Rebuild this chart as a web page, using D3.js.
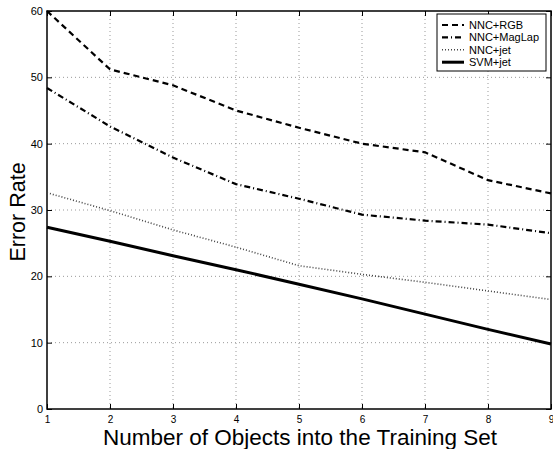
<!DOCTYPE html>
<html>
<head>
<meta charset="utf-8">
<script src="https://cdn.jsdelivr.net/npm/d3@7"></script>
<style>
  body { margin: 0; background: #fff; }
  svg { display: block; font-family: "Liberation Sans", Arial, sans-serif; }
</style>
</head>
<body>
<div id="chart"></div>
<script>
const objects = [1, 2, 3, 4, 5, 6, 7, 8, 9];
const nncRgb = [60.0, 51.2, 48.8, 45.0, 42.4, 40.0, 38.7, 34.5, 32.5];
const nncMagLap = [48.4, 42.6, 37.9, 33.9, 31.7, 29.3, 28.4, 27.8, 26.5];
const nncJet = [32.6, 29.9, 27.0, 24.4, 21.6, 20.3, 19.1, 17.8, 16.5];
const svmJet = [27.4, 25.3, 23.1, 21.0, 18.8, 16.6, 14.3, 12.0, 9.8];
const yTicks = [0, 10, 20, 30, 40, 50, 60];

const series = [
    { name: "NNC+RGB", values: nncRgb, dash: "6,4", width: 2.2, color: "#000" },
    { name: "NNC+MagLap", values: nncMagLap, dash: "6,3,1,3", width: 2.2, color: "#000" },
    { name: "NNC+jet", values: nncJet, dash: "1,2", width: 1.6, color: "#444" },
    { name: "SVM+jet", values: svmJet, dash: null, width: 3, color: "#000" }
];

const W = 553, H = 449;
const margin = { top: 11, right: 2, bottom: 40, left: 47 };
const iw = W - margin.left - margin.right;
const ih = H - margin.top - margin.bottom;

const svg = d3.select("#chart").append("svg")
    .attr("width", W)
    .attr("height", H);

const g = svg.append("g")
    .attr("transform", `translate(${margin.left},${margin.top})`);

const x = d3.scaleLinear().domain([1, 9]).range([0, iw]);
const y = d3.scaleLinear().domain([0, 60]).range([ih, 0]);

// dotted grid
g.append("g")
    .selectAll("line")
    .data(objects.slice(1, -1))
    .join("line")
    .attr("x1", d => x(d)).attr("x2", d => x(d))
    .attr("y1", 0).attr("y2", ih)
    .attr("stroke", "#999")
    .attr("stroke-width", 1)
    .attr("stroke-dasharray", "1,3");

g.append("g")
    .selectAll("line")
    .data(yTicks.slice(1, -1))
    .join("line")
    .attr("y1", d => y(d)).attr("y2", d => y(d))
    .attr("x1", 0).attr("x2", iw)
    .attr("stroke", "#999")
    .attr("stroke-width", 1)
    .attr("stroke-dasharray", "1,3");

// axes with inward ticks
const xAxis = g.append("g")
    .attr("transform", `translate(0,${ih})`)
    .call(d3.axisBottom(x).tickValues(objects).tickFormat(d3.format("d")).tickSizeInner(-5).tickSizeOuter(0));
const xTop = g.append("g")
    .call(d3.axisTop(x).tickValues(objects).tickSizeInner(-5).tickSizeOuter(0).tickFormat(""));
const yAxis = g.append("g")
    .call(d3.axisLeft(y).tickValues(yTicks).tickSizeInner(-5).tickSizeOuter(0));
const yRight = g.append("g")
    .attr("transform", `translate(${iw},0)`)
    .call(d3.axisRight(y).tickValues(yTicks).tickSizeInner(-5).tickSizeOuter(0).tickFormat(""));

[xAxis, xTop, yAxis, yRight].forEach(a => {
    a.select(".domain").remove();
    a.selectAll("line").attr("stroke", "#000");
});
xAxis.selectAll("text").attr("dy", 0).attr("y", 14).style("font-size", "10px").attr("fill", "#000");
yAxis.selectAll("text").attr("x", -4).style("font-size", "11px").attr("fill", "#000");

g.append("rect")
    .attr("width", iw).attr("height", ih)
    .attr("fill", "none")
    .attr("stroke", "#000")
    .attr("stroke-width", 1.5);

// series
const line = d3.line()
    .x((d, i) => x(objects[i]))
    .y(d => y(d));

g.append("g")
    .selectAll("path")
    .data(series)
    .join("path")
    .attr("d", d => line(d.values))
    .attr("fill", "none")
    .attr("stroke", d => d.color)
    .attr("stroke-width", d => d.width)
    .attr("stroke-dasharray", d => d.dash);

// legend
const legend = g.append("g")
    .attr("transform", `translate(${iw - 114},3)`);

legend.append("rect")
    .attr("width", 109).attr("height", 57)
    .attr("fill", "#fff")
    .attr("stroke", "#000")
    .attr("stroke-width", 1);

const item = legend.selectAll("g.item")
    .data(series)
    .join("g")
    .attr("class", "item")
    .attr("transform", (d, i) => `translate(0,${11 + i * 12.4})`);

item.append("line")
    .attr("x1", 5).attr("x2", 27)
    .attr("stroke", d => d.color)
    .attr("stroke-width", d => d.width)
    .attr("stroke-dasharray", d => d.dash);

item.append("text")
    .attr("x", 32)
    .attr("dy", "0.35em")
    .style("font-size", "11px")
    .text(d => d.name);

// axis titles
svg.append("text")
    .attr("x", margin.left + iw / 2 + 1)
    .attr("y", H - 4)
    .attr("text-anchor", "middle")
    .style("font-size", "22.5px")
    .text("Number of Objects into the Training Set");

svg.append("text")
    .attr("transform", `translate(25,${margin.top + ih / 2 + 2}) rotate(-90)`)
    .attr("text-anchor", "middle")
    .style("font-size", "21.5px")
    .text("Error Rate");
</script>
</body>
</html>
